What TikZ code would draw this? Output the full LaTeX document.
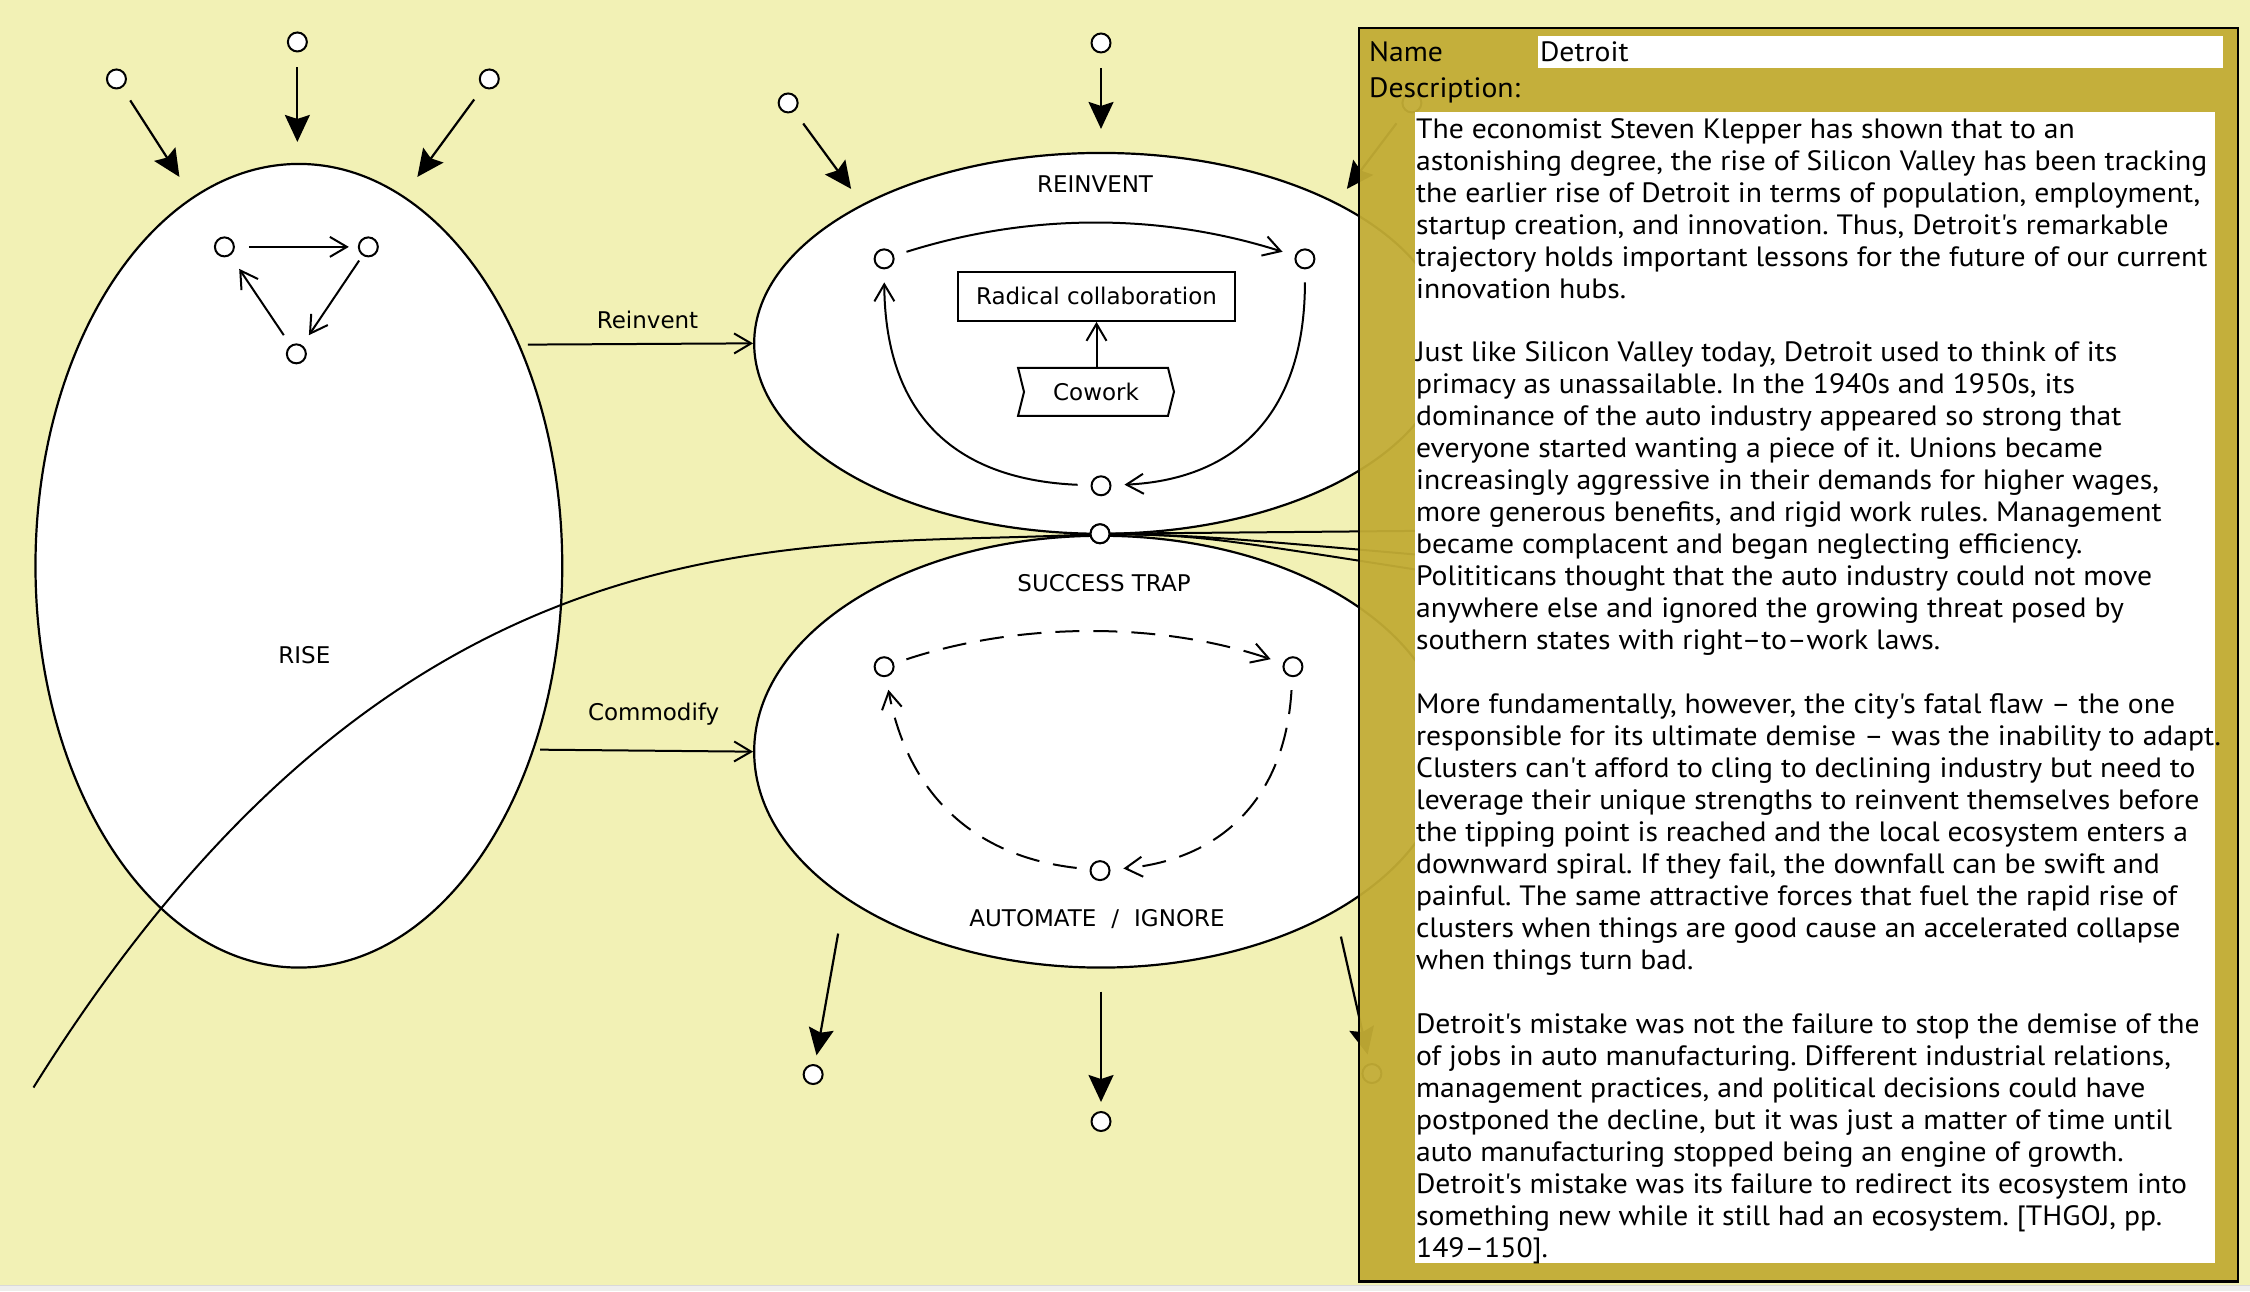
\documentclass[tikz,border=0pt]{standalone}
\usepackage{fontspec}
\setmainfont{DejaVu Sans}
\newfontfamily\panelfont{PT Sans}[Ligatures=TeXOff, FakeStretch=1.06]
\usetikzlibrary{arrows.meta,shapes.geometric,shapes.symbols}
\definecolor{paper}{RGB}{242,241,181}
\definecolor{panelgold}{RGB}{194,172,53}
\definecolor{strip}{RGB}{238,238,236}

\begin{document}
\begin{tikzpicture}[x=1pt, y=-1pt,
    font=\fontsize{23}{27}\selectfont,
    >={Straight Barb[length=17pt,width=20pt]},
    dot/.style={circle, draw, line width=2pt, fill=white, minimum size=19pt, inner sep=0pt},
    region/.style={ellipse, draw, line width=2.2pt, fill=white, inner sep=0pt},
    flow/.style={line width=2pt, ->, shorten <=13pt, shorten >=13pt},
    loopy/.style={flow, dash pattern=on 24pt off 14pt},
    link/.style={line width=2pt, ->},
    feed/.style={line width=2.2pt, -{Stealth[length=27pt,width=25pt,inset=4pt]}},
    tie/.style={line width=2pt},
    paneltext/.style={font=\panelfont\fontsize{28}{32}\selectfont\frenchspacing, inner sep=0pt},
  ]
  % ===== background =====
  \fill[paper] (0,0) rectangle (2250,1286);
  \fill[strip] (0,1286) rectangle (2250,1292);
  \draw[black!15, line width=1pt] (0,1286.5) -- (2250,1286.5);
  \useasboundingbox (0,0) rectangle (2250,1292);

  % ===== regions =====
  \node[region, minimum width=527pt, minimum height=804pt] (rise) at (298.5,566) {};
  \node[region, minimum width=694pt, minimum height=381pt] (reinvent) at (1101,343.5) {};
  \node[region, minimum width=694pt, minimum height=432pt] (trap) at (1101,752) {};

  \node (riselbl) at (304,655) {RISE};
  \node (reinventlbl) at (1095,184) {REINVENT};
  \node (traplbl) at (1104,583) {SUCCESS TRAP};
  \node (automatelbl) at (1097,919) {AUTOMATE\hspace{15pt}/\hspace{15pt}IGNORE};

  % transitions between regions
  \draw[link, shorten <=8pt] (rise.45) -- (reinvent.west)
      node[midway, above=14pt, inner sep=0pt, xshift=11pt] (reinventedge) {Reinvent};
  \draw[link, shorten <=6pt] (rise.-38.7) -- (trap.west)
      node[midway, above=24pt, inner sep=0pt, xshift=10pt] (commodifyedge) {Commodify};

  % ===== long trajectory through the hub =====
  \coordinate (tail) at (33,1088);
  \coordinate (out1) at (1430,531);
  \coordinate (out2) at (1430,556);
  \coordinate (out3) at (1430,572);
  \node[dot] (hub) at (1100,534) {};
  \draw[tie] (tail) .. controls (404,493) and (800,550) .. (hub);
  \draw[tie] (hub) -- (out1);
  \draw[tie] (hub) .. controls (1200,536) .. (out2);
  \draw[tie] (hub) .. controls (1200,536) .. (out3);
  \node[dot] at (hub) {};

  % ===== RISE: inputs and inner cycle =====
  \node[dot] (ri1) at (116,79) {};
  \node[dot] (ri2) at (297,42) {};
  \node[dot] (ri3) at (489,79) {};
  \coordinate (ri1e) at (179,177);
  \coordinate (ri2e) at (297,142);
  \coordinate (ri3e) at (417,177);
  \draw[feed, shorten <=15pt] (ri1) -- (ri1e);
  \draw[feed, shorten <=15pt] (ri2) -- (ri2e);
  \draw[feed, shorten <=15pt] (ri3) -- (ri3e);

  \node[dot] (ta) at (224,247) {};
  \node[dot] (tb) at (368,247) {};
  \node[dot] (tc) at (296,354) {};
  \draw[flow, shorten <=14pt, shorten >=9pt] (ta) -- (tb);
  \draw[flow, shorten <=6pt, shorten >=12pt] (tb) -- (tc);
  \draw[flow, shorten <=12pt, shorten >=16pt] (tc) -- (ta);

  % ===== REINVENT: inputs and inner cycle =====
  \node[dot] (rv1) at (788,103) {};
  \node[dot] (rv2) at (1101,43) {};
  \node[dot] (rv3) at (1412,103) {};
  \coordinate (rv1e) at (851,189);
  \coordinate (rv2e) at (1101,129);
  \coordinate (rv3e) at (1347,189);
  \draw[feed, shorten <=15pt] (rv1) -- (rv1e);
  \draw[feed, shorten <=15pt] (rv2) -- (rv2e);
  \draw[feed, shorten <=15pt] (rv3) -- (rv3e);

  \node[dot] (ra) at (884,259) {};
  \node[dot] (rb) at (1305,259) {};
  \node[dot] (rc) at (1101,486) {};
  \draw[flow] (ra) .. controls (1030,213) and (1160,213) .. (rb);
  \draw[flow] (rb) .. controls (1305,420) and (1230,480) .. (rc);
  \draw[flow] (rc) .. controls (960,480) and (885,420) .. (ra);

  \node[draw, line width=2pt, fill=white, minimum width=277pt, minimum height=49pt]
      (radical) at (1096.5,296.5) {Radical collaboration};
  \node[signal, signal to=east, signal from=west, signal pointer angle=152,
      draw, line width=2pt, fill=white, minimum width=156pt, minimum height=48pt]
      (cowork) at (1096,392) {Cowork};
  \draw[link] (cowork.north -| radical.south) -- (radical.south);

  % ===== SUCCESS TRAP: inner cycle and outputs =====
  \node[dot] (sa) at (884,667) {};
  \node[dot] (sb) at (1293,667) {};
  \node[dot] (sc) at (1100,871) {};
  \draw[loopy] (sa) .. controls (1020,622) and (1160,622) .. (sb);
  \draw[loopy] (sb) .. controls (1285,800) and (1220,860) .. (sc);
  \draw[loopy] (sc) .. controls (960,855) and (905,780) .. (sa);

  \coordinate (so1s) at (838,934);
  \coordinate (so2s) at (1101,992);
  \coordinate (so3s) at (1341,937);
  \node[dot] (so1) at (813,1075) {};
  \node[dot] (so2) at (1101,1122) {};
  \node[dot] (so3) at (1372,1074) {};
  \draw[feed, shorten >=9pt] (so1s) -- (so1);
  \draw[feed, shorten >=9pt] (so2s) -- (so2);
  \draw[feed, shorten >=9pt] (so3s) -- (so3);

  % ===== property panel =====
  \node[draw, line width=2.5pt, fill=panelgold, fill opacity=0.95, inner sep=0pt,
      anchor=north west, minimum width=879pt, minimum height=1254pt] (panel) at (1358,27) {};
  \node[fill=white, inner sep=0pt, anchor=north west, minimum width=685pt,
      minimum height=32pt] (namefield) at (1538,36) {};
  \node[fill=white, inner sep=0pt, anchor=north west, minimum width=800pt,
      minimum height=1151pt] (descbox) at (1415,112) {};
  \node[paneltext, anchor=base west] (namelbl) at (1369,62) {Name};
  \node[paneltext, anchor=base west] (nameval) at (1540,62) {Detroit};
  \node[paneltext, anchor=base west] (desclbl) at (1369,98) {Description:};
  \node[paneltext, anchor=north west, align=left] (desctext) at (1416,118) {%
    The economist Steven Klepper has shown that to an\\
    astonishing degree, the rise of Silicon Valley has been tracking\\
    the earlier rise of Detroit in terms of population, employment,\\
    startup creation, and innovation. Thus, Detroit's remarkable\\
    trajectory holds important lessons for the future of our current\\
    innovation hubs.\\[32pt]
    Just like Silicon Valley today, Detroit used to think of its\\
    primacy as unassailable. In the 1940s and 1950s, its\\
    dominance of the auto industry appeared so strong that\\
    everyone started wanting a piece of it. Unions became\\
    increasingly aggressive in their demands for higher wages,\\
    more generous benefits, and rigid work rules. Management\\
    became complacent and began neglecting efficiency.\\
    Polititicans thought that the auto industry could not move\\
    anywhere else and ignored the growing threat posed by\\
    southern states with right–to–work laws.\\[32pt]
    More fundamentally, however, the city's fatal flaw – the one\\
    responsible for its ultimate demise – was the inability to adapt.\\
    Clusters can't afford to cling to declining industry but need to\\
    leverage their unique strengths to reinvent themselves before\\
    the tipping point is reached and the local ecosystem enters a\\
    downward spiral. If they fail, the downfall can be swift and\\
    painful. The same attractive forces that fuel the rapid rise of\\
    clusters when things are good cause an accelerated collapse\\
    when things turn bad.\\[32pt]
    Detroit's mistake was not the failure to stop the demise of the\\
    of jobs in auto manufacturing. Different industrial relations,\\
    management practices, and political decisions could have\\
    postponed the decline, but it was just a matter of time until\\
    auto manufacturing stopped being an engine of growth.\\
    Detroit's mistake was its failure to redirect its ecosystem into\\
    something new while it still had an ecosystem. [THGOJ, pp.\\
    149–150].};
\end{tikzpicture}
\end{document}
